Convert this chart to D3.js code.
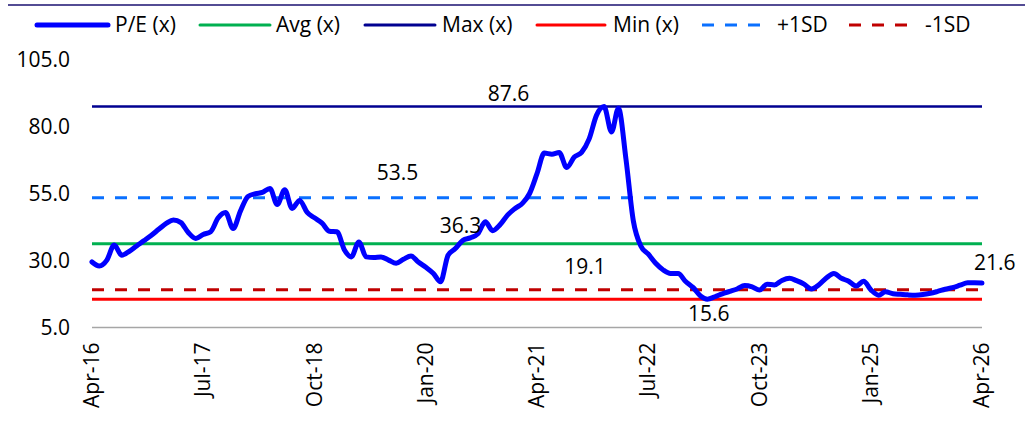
<!DOCTYPE html>
<html>
<head>
<meta charset="utf-8">
<script src="https://cdn.jsdelivr.net/npm/d3@7"></script>
<style>
  html, body { margin: 0; padding: 0; background: #fff; }
  svg { display: block; font-family: "Open Sans", "Noto Sans", sans-serif; }
</style>
</head>
<body>
<svg id="chart" width="1030" height="425"></svg>
<script>
// ---------- data ----------
const startMonth = "2016-04";
const peValues = [
  29.5, 28.0, 30.2, 35.8, 32.0, 33.5, 35.5, 37.5, 39.5, 41.8,
  44.0, 45.2, 44.2, 40.5, 38.3, 39.8, 40.8, 46.0, 48.0, 42.0,
  48.5, 54.0, 55.0, 55.5, 57.0, 51.0, 56.5, 49.5, 52.5, 48.0,
  46.0, 44.0, 41.0, 40.8, 34.0, 31.4, 37.0, 31.4, 31.2, 31.4,
  30.2, 29.0, 30.5, 31.7, 29.5, 27.5, 25.2, 22.1, 32.0, 34.5,
  37.6, 38.5, 40.0, 44.5, 41.2, 43.5, 47.0, 49.5, 51.5, 55.0,
  62.5, 70.2, 69.8, 70.4, 64.8, 68.7, 70.5, 75.5, 84.3, 87.6,
  78.1, 87.0, 68.0, 45.0, 35.5, 32.5, 29.0, 26.5, 25.2, 25.2,
  22.3, 20.0, 16.8, 15.6, 16.5, 17.6, 18.5, 19.4, 20.7, 20.2,
  19.0, 21.2, 20.9, 22.6, 23.4, 22.5, 21.2, 19.4, 21.0, 23.5,
  25.2, 23.4, 22.3, 20.5, 22.3, 19.0, 17.1, 18.4, 17.6, 17.4,
  17.2, 17.1, 17.3, 17.8, 18.5, 19.3, 19.9, 20.8, 21.7, 21.7,
  21.6
];
const avgValue = 36.3;
const maxValue = 87.6;
const minValue = 15.6;
const plusSD = 53.5;
const minusSD = 19.1;

const yTicks = [5, 30, 55, 80, 105];
const xTickLabels = ["2016-04", "2017-07", "2018-10", "2020-01", "2021-04", "2022-07", "2023-10", "2025-01", "2026-04"];

const seriesNames = ["P/E (x)", "Avg (x)", "Max (x)", "Min (x)", "+1SD", "-1SD"];

// data labels: text value, month position
const labelTexts = ["87.6", "53.5", "36.3", "19.1", "15.6", "21.6"];
const labelMonths = [56.2, 41.2, 49.7, 66.5, 83.2, 121.8];
const labelRefs = [maxValue, plusSD, avgValue, minusSD, minValue, 21.6];

// ---------- setup ----------
const svg = d3.select("#chart");
const parseM = d3.timeParse("%Y-%m");
const t0 = parseM(startMonth);
const dates = peValues.map((v, i) => d3.timeMonth.offset(t0, i));
const data = peValues.map((v, i) => ({ date: dates[i], v }));

const x = d3.scaleTime()
  .domain([t0, dates[dates.length - 1]])
  .range([92, 982]);
const y = d3.scaleLinear().domain([5, 105]).range([327.5, 60]);

const colors = {
  pe: "#0000ff", avg: "#00b050", max: "#000090", min: "#ff0000",
  psd: "#0a70ff", msd: "#c00000"
};
const FS = 21;

// top border line
svg.append("line").attr("x1", 8).attr("x2", 1025).attr("y1", 5).attr("y2", 5)
  .attr("stroke", "#1a1070").attr("stroke-width", 1.5);

// y tick labels
svg.append("g").selectAll("text").data(yTicks).join("text")
  .attr("x", 70).attr("y", d => y(d)).attr("dy", "0.35em")
  .attr("text-anchor", "end").attr("font-size", FS).attr("fill", "#000")
  .text(d => d3.format(".1f")(d));

// x axis
svg.append("line").attr("x1", x.range()[0]).attr("x2", x.range()[1])
  .attr("y1", y(5)).attr("y2", y(5)).attr("stroke", "#a6a6a6").attr("stroke-width", 1.5);

const fmt = d3.timeFormat("%b-%y");
svg.append("g").selectAll("text").data(xTickLabels.map(parseM)).join("text")
  .attr("transform", d => `translate(${x(d)},${y(5) + 15}) rotate(-90)`)
  .attr("dy", "0.35em").attr("text-anchor", "end")
  .attr("font-size", FS).attr("fill", "#000")
  .text(d => fmt(d));

// horizontal reference lines
function hline(val, color, width, dash) {
  const l = svg.append("line")
    .attr("x1", x.range()[0]).attr("x2", x.range()[1])
    .attr("y1", y(val)).attr("y2", y(val))
    .attr("stroke", color).attr("stroke-width", width);
  if (dash) l.attr("stroke-dasharray", dash);
}
hline(minValue, colors.min, 3);
hline(minusSD, colors.msd, 3, "12,11");
hline(avgValue, colors.avg, 3);
hline(plusSD, colors.psd, 3, "12,11");
hline(maxValue, colors.max, 2.5);

// P/E line
const line = d3.line().x(d => x(d.date)).y(d => y(d.v)).curve(d3.curveMonotoneX);
svg.append("path").datum(data).attr("d", line)
  .attr("fill", "none").attr("stroke", colors.pe).attr("stroke-width", 5)
  .attr("stroke-linejoin", "round").attr("stroke-linecap", "round");

// data labels
const labelOffsets = [-13, -25, -18, -23, 15, -20];
const pxPerMonth = (x(d3.timeMonth.offset(t0, 12)) - x(t0)) / 12;
svg.append("g").selectAll("text").data(labelTexts).join("text")
  .attr("x", (d, i) => x(t0) + pxPerMonth * labelMonths[i])
  .attr("y", (d, i) => y(labelRefs[i]) + labelOffsets[i])
  .attr("dy", "0.35em").attr("text-anchor", "middle")
  .attr("font-size", FS).attr("fill", "#000")
  .text(d => d);

// legend
const legend = [
  { name: seriesNames[0], color: colors.pe, w: 5, dash: null, x1: 37, x2: 108, tx: 115 },
  { name: seriesNames[1], color: colors.avg, w: 3, dash: null, x1: 200, x2: 270, tx: 276 },
  { name: seriesNames[2], color: colors.max, w: 3, dash: null, x1: 365, x2: 435, tx: 442 },
  { name: seriesNames[3], color: colors.min, w: 3, dash: null, x1: 537, x2: 605, tx: 613 },
  { name: seriesNames[4], color: colors.psd, w: 3, dash: "12,11", x1: 702, x2: 762, tx: 777 },
  { name: seriesNames[5], color: colors.msd, w: 3, dash: "12,11", x1: 849, x2: 908, tx: 925 }
];
const lg = svg.append("g");
legend.forEach(d => {
  const l = lg.append("line").attr("x1", d.x1).attr("x2", d.x2).attr("y1", 25).attr("y2", 25)
    .attr("stroke", d.color).attr("stroke-width", d.w).attr("stroke-linecap", d.dash ? "butt" : "round");
  if (d.dash) l.attr("stroke-dasharray", d.dash);
  lg.append("text").attr("x", d.tx).attr("y", 25).attr("dy", "0.35em")
    .attr("font-size", FS).attr("fill", "#000").text(d.name);
});
</script>
</body>
</html>
